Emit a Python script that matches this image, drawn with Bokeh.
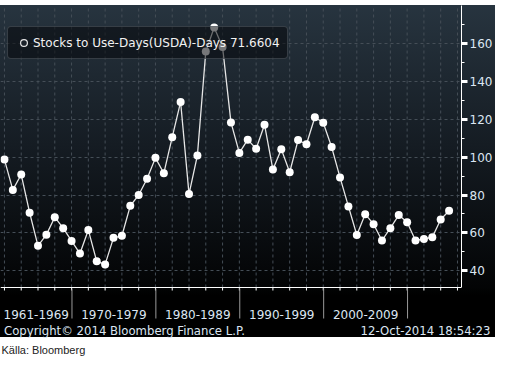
import math
from bokeh.plotting import figure
from bokeh.models import FixedTicker, Legend, LegendItem, Title
from bokeh.core.properties import value
from bokeh.embed import file_html
from bokeh.resources import INLINE

# ---- data -------------------------------------------------------------
years = list(range(1961, 2015))
stocks_to_use_days = [
    98.7, 82.7, 90.8, 70.7, 53.2, 59.1, 68.3, 62.5, 55.8,          # 1961-1969
    49.1, 61.5, 45.0, 43.4, 57.4, 58.5, 74.3, 80.0, 88.6, 99.6,    # 1970-1979
    91.5, 110.5, 129.1, 80.5, 100.9, 155.7, 168.4, 158.1, 118.3, 102.2,  # 1980-1989
    109.2, 104.4, 117.1, 93.4, 104.2, 92.0, 109.0, 106.8, 121.0, 118.1,  # 1990-1999
    105.3, 89.3, 74.0, 58.9, 69.9, 64.6, 56.0, 62.5, 69.4, 65.6,   # 2000-2009
    56.0, 56.8, 57.7, 67.1, 71.6604,                                # 2010-2014
]
decade_labels = ["1961-1969", "1970-1979", "1980-1989", "1990-1999", "2000-2009"]
decade_starts = [1961, 1970, 1980, 1990, 2000]
decade_ends = [1969, 1979, 1989, 1999, 2009]
y_major = [40, 60, 80, 100, 120, 140, 160]
y_minor = [50, 70, 90, 110, 130, 150, 170]
legend_label = "Stocks to Use-Days(USDA)-Days 71.6604"
copyright_text = "Copyright\u00a9 2014 Bloomberg Finance L.P."
stamp_text = "12-Oct-2014 18:54:23"
source_text = "K\u00e4lla: Bloomberg"

# ---- layout -----------------------------------------------------------
W, H = 493, 354
TOP = 5                 # white strip above the panel
FW = 461                # frame width
AX = 282                # distance frame top -> x axis line
FH = 317                # frame height (includes decade-label zone)
PANEL_END = 337
XMIN, XMAX = 1960.53, 2015.48
YAX, YMAX = 31.2, 180.0
ppx = FW / (XMAX - XMIN)
ppy = AX / (YMAX - YAX)
YBOT = YAX - (FH - AX) / ppy

FONT = "DejaVu Sans"
TXT = "#dce6f2"

p = figure(frame_width=FW, frame_height=FH, x_range=(XMIN, XMAX), y_range=(YBOT, YMAX),
           output_backend="svg", toolbar_location=None, y_axis_location="right",
           min_border_left=0, min_border_top=TOP, min_border_right=W - FW,
           min_border_bottom=H - FH - TOP)
p.outline_line_color = None
p.background_fill_alpha = 0
p.border_fill_alpha = 0
p.styles = {"background": (
    "linear-gradient(to bottom, #ffffff 0px, #ffffff %dpx, #27343f %dpx, #151c23 %dpx, "
    "#030405 %dpx, #000000 %dpx, #000000 %dpx, #ffffff %dpx)"
    % (TOP, TOP, TOP + 140, TOP + AX, TOP + AX + 8, PANEL_END, PANEL_END))}

# right value axis
ya = p.yaxis[0]
ya.bounds = (YAX, YMAX)
ya.ticker = FixedTicker(ticks=y_major, minor_ticks=y_minor)
ya.axis_line_color = "white"
ya.major_tick_line_color = "white"
ya.major_tick_line_width = 3
ya.major_tick_out = 6
ya.major_tick_in = 0
ya.minor_tick_line_color = "white"
ya.minor_tick_out = 3
ya.minor_tick_in = 0
ya.major_label_standoff = 2
ya.major_label_text_font = FONT
ya.major_label_text_font_size = "12px"
ya.major_label_text_color = TXT

p.ygrid.grid_line_color = "#454e57"
p.ygrid.grid_line_dash = "3 3"
p.xgrid.visible = False

# time axis drawn inside the frame: grid, axis line, ticks, decade separators
odd_years = [y for y in years if (y - 1961) % 2 == 0] + [2015]
seps = [d + 0.05 for d in decade_ends]
p.segment(x0=odd_years, y0=[YAX] * len(odd_years), x1=odd_years, y1=[YMAX] * len(odd_years),
          line_color="#454e57", line_dash="3 3", line_width=1)
p.segment(x0=[XMIN], y0=[YAX], x1=[XMAX], y1=[YAX], line_color="white", line_width=1.2)
p.segment(x0=odd_years, y0=[YAX] * len(odd_years), x1=odd_years,
          y1=[YAX - 3 / ppy] * len(odd_years), line_color="white", line_width=1)
p.segment(x0=seps, y0=[YAX - 1 / ppy] * len(seps), x1=seps, y1=[YAX - 31 / ppy] * len(seps),
          line_color="#9a9a9a", line_width=1)
centers = [(max(XMIN, s - 0.95) + e + 0.05) / 2 for s, e in zip(decade_starts, decade_ends)]
p.text(x=centers, y=[YAX - 27 / ppy] * len(centers), text=decade_labels,
       text_align="center", text_baseline="middle", text_font=value(FONT),
       text_font_size="12px", text_color=TXT)

# series
p.line(years, stocks_to_use_days, line_color="#e6e6e6", line_width=1.3)
p.scatter(years, stocks_to_use_days, marker="circle", size=8, fill_color="white",
          line_color=None)

# legend (hollow circle marker)
dummy = p.scatter(x=[math.nan], y=[math.nan], marker="circle", size=7, fill_color="#1a2129",
                  line_color="#e6e6e6", line_width=1.2)
legend = Legend(items=[LegendItem(label=legend_label, renderers=[dummy])],
                location=(7, FH - 23 - 31), padding=7, spacing=0, margin=0,
                glyph_width=17, glyph_height=17, label_height=17, label_standoff=1,
                label_text_font=FONT, label_text_font_size="12px",
                label_text_color="#f2f2f2", background_fill_color="#05080b",
                background_fill_alpha=0.55, border_line_color="#5c636b",
                border_line_width=1)
if "border_radius" in Legend.properties():
    legend.border_radius = 4
p.add_layout(legend)

# footer row (copyright + time stamp) as the lower axis
copy_c = round(XMIN + (2 + 244 / 2) / ppx, 3)
stamp_c = round(XMIN + (W - 3 - 130 / 2) / ppx, 3)
xa = p.xaxis[0]
xa.ticker = FixedTicker(ticks=[copy_c, stamp_c])
xa.major_label_overrides = {copy_c: copyright_text, stamp_c: stamp_text}
xa.axis_line_color = None
xa.major_tick_line_color = None
xa.minor_tick_line_color = None
xa.major_tick_out = 0
xa.major_tick_in = 0
xa.major_label_standoff = 1
xa.major_label_text_font = FONT
xa.major_label_text_font_size = "11.7px"
xa.major_label_text_color = TXT

p.add_layout(Title(text=source_text, align="left", offset=1, standoff=3,
                   text_font="Liberation Sans", text_font_size="11px",
                   text_font_style="normal", text_color="#222222"), "below")

open("out.html", "w").write(file_html(p, INLINE))
